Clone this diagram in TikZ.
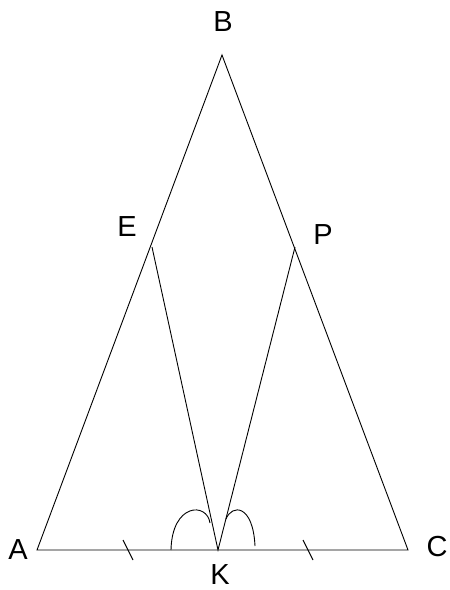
\documentclass[tikz,border=0pt]{standalone}
\usepackage{fontspec}
\setmainfont{Liberation Sans}
\begin{document}
\begin{tikzpicture}[x=1pt,y=-1pt,
  edge/.style={line width=0.9pt},
  lbl/.style={font=\fontsize{29}{29}\selectfont, inner sep=0pt}]
\useasboundingbox (0,0) rectangle (450,590);
\coordinate (A) at (37,550);
\coordinate (B) at (222,55);
\coordinate (C) at (408,550);
\coordinate (K) at (218,550);
\coordinate (E) at (152,247);
\coordinate (P) at (295,247);
\draw[edge] (A) -- (B) -- (C) -- cycle;
\draw[edge] (E) -- (K) -- (P);
% ticks
\coordinate (t1a) at (123,540); \coordinate (t1b) at (133,560);
\coordinate (t2a) at (303,540); \coordinate (t2b) at (313,560);
\draw[edge] (t1a) -- (t1b);
\draw[edge] (t2a) -- (t2b);
% angle arcs
\coordinate (a1s) at (171,550); \coordinate (a1e) at (210,523);
\coordinate (a2s) at (226,519); \coordinate (a2e) at (255,546);
\draw[edge] (a1s) .. controls (172,503) and (207,502) .. (a1e);
\draw[edge] (a2s) .. controls (232,504) and (253,504) .. (a2e);
% labels
\node[lbl] (lB) at (223,22) {B};
\node[lbl] (lE) at (127,227) {E};
\node[lbl] (lP) at (323,235) {P};
\node[lbl] (lA) at (18,550) {A};
\node[lbl] (lC) at (437,547) {C};
\node[lbl] (lK) at (220,575) {K};
\end{tikzpicture}
\end{document}
